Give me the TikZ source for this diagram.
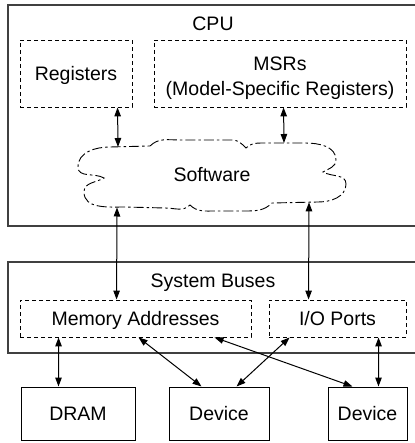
\documentclass[tikz,border=0pt]{standalone}
\usepackage{fontspec}
\setmainfont{Liberation Sans}
\usetikzlibrary{arrows.meta,calc}
\begin{document}
\begin{tikzpicture}[x=1pt,y=-1pt,
  every node/.style={font=\fontsize{19.5}{25}\selectfont, inner sep=0pt, align=center},
  one/.style={text height=14pt, text depth=0pt},
  outerbox/.style={draw=black!75, line width=1.3pt, rectangle},
  dbox/.style={draw, dash pattern=on 4pt off 3pt, line width=0.9pt, one},
  sbox/.style={draw, line width=1pt, one},
  cloudline/.style={draw, line width=0.9pt, dash pattern=on 10pt off 3pt on 2.5pt off 3pt},
  conn/.style={{Triangle[length=9pt,width=6.5pt]}-{Triangle[length=9pt,width=6.5pt]}, line width=1pt},
]
\useasboundingbox (0,0) rectangle (414,443);

% CPU
\node[outerbox, minimum width=408pt, minimum height=221pt] (cpu) at (212,115.5) {};
\node[one] (cpulabel) at (213,24) {CPU};
\node[dbox, minimum width=112pt, minimum height=67pt] (reg) at (76,73.5) {Registers};
\node[dbox, minimum width=252pt, minimum height=67pt] (msr) at (280,73.5) {};
\node (msrtext) at (280,78.5) {MSRs\\(Model-Specific Registers)};

% Software cloud
\path[cloudline] (150,146) to[out=45,in=180] (180,140) -- (232,140) to[out=0,in=135] (246,148)
  to[out=45,in=180] (262,143) -- (305,143) to[out=0,in=90] (336,160) to[out=-90,in=30] (323,172)
  to[out=-30,in=90] (346,184) to[out=-90,in=0] (318,202) -- (272,203)
  to[out=-135,in=0] (245,211) -- (215,211) to[out=180,in=-45] (190,205)
  to[out=-135,in=0] (165,208) -- (125,207) to[out=180,in=-90] (84,192)
  to[out=90,in=-150] (104,178) to[out=150,in=-90] (78,167) to[out=90,in=180] (110,147) -- cycle;
\node[one] (sw) at (212,175) {Software};
\coordinate (c1) at (118,147);
\coordinate (c2) at (284,143);
\coordinate (c3) at (117,207.5);
\coordinate (c4) at (309,202.3);

% System buses
\node[outerbox, minimum width=408pt, minimum height=91pt] (bus) at (212,307.5) {};
\node[one] (buslabel) at (213,280) {System Buses};
\node[dbox, minimum width=231pt, minimum height=37pt] (mem) at (135.5,318.5) {Memory Addresses};
\node[dbox, minimum width=137pt, minimum height=37pt] (io) at (337.5,318.5) {I/O Ports};

% Devices
\node[sbox, minimum width=114pt, minimum height=53pt] (dram) at (78,413.5) {DRAM};
\node[sbox, minimum width=100pt, minimum height=53pt] (dev1) at (219,413.5) {Device};
\node[sbox, minimum width=79pt, minimum height=53pt] (dev2) at (367.5,413.5) {Device};

% Connectors
\draw[conn] ([xshift=98pt]reg.south west) -- (c1);
\draw[conn] ([xshift=130pt]msr.south west) -- (c2);
\draw[conn] (c3) -- ([xshift=97pt]mem.north west);
\draw[conn] (c4) -- ([xshift=40pt]io.north west);
\draw[conn] ([xshift=39pt]mem.south west) -- ([xshift=38pt]dram.north west);
\draw[conn] ([xshift=119pt]mem.south west) -- ([xshift=33pt]dev1.north west);
\draw[conn] ([xshift=195pt]mem.south west) -- ([xshift=25pt]dev2.north west);
\draw[conn] ([xshift=21pt]io.south west) -- ([xshift=68pt]dev1.north west);
\draw[conn] ([xshift=110pt]io.south west) -- ([xshift=51pt]dev2.north west);
\end{tikzpicture}
\end{document}
